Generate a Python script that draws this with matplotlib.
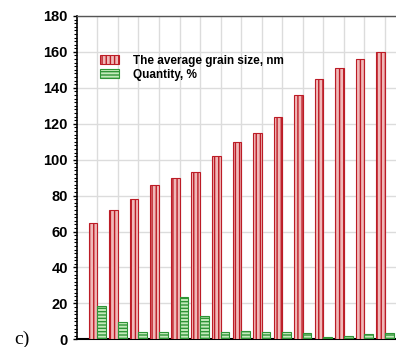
import numpy as np
import matplotlib.pyplot as plt
from matplotlib.ticker import MultipleLocator

# Grain size and share of grains per size class
grain_size = [65, 72, 78, 86, 90, 93, 102, 110, 115, 124, 136, 145, 151, 156, 160]
quantity = [18.5, 9.5, 4, 4.3, 23.7, 13, 4, 4.6, 4.3, 4, 3.3, 1.3, 1.8, 2.9, 3.5]
y_ticks = [0, 20, 40, 60, 80, 100, 120, 140, 160, 180]

plt.rcParams['font.family'] = ['Liberation Sans', 'DejaVu Sans']
plt.rcParams['hatch.linewidth'] = 1.0

fig = plt.figure(figsize=(3.96, 3.47), dpi=100)
ax = fig.add_axes([0.194, 0.022, 0.83, 0.932])

x = np.arange(len(grain_size))
w = 0.42

ax.bar(x - w / 2, grain_size, w, facecolor='#f0b8b8', edgecolor='#bc1c26',
       hatch='||||', linewidth=0.8, label='The average grain size, nm', zorder=3)
ax.bar(x + w / 2, quantity, w, facecolor='#c4eabb', edgecolor='#2e9436',
       hatch='-----', linewidth=0.8, label='Quantity, %', zorder=3)

ax.set_xlim(-1, 15)
ax.set_ylim(0, 180)
ax.set_xticks(x)
ax.set_xticklabels([])
ax.set_yticks(y_ticks)
ax.yaxis.set_minor_locator(MultipleLocator(2))
ax.tick_params(axis='x', length=0)
ax.tick_params(axis='y', which='major', direction='out', length=3, width=1)
ax.tick_params(axis='y', which='minor', direction='out', length=2, width=0.8)
for lab in ax.get_yticklabels():
    lab.set_fontweight('bold')
    lab.set_fontsize(10.5)

ax.grid(True, color='#dcdcdc', linewidth=1.0, zorder=0)
ax.set_axisbelow(True)
ax.spines['right'].set_visible(False)
ax.spines['top'].set_color('#555555')
ax.spines['top'].set_linewidth(1.0)
ax.spines['left'].set_linewidth(1.2)
ax.spines['bottom'].set_linewidth(1.5)

leg = ax.legend(loc='upper left', bbox_to_anchor=(0.055, 0.895), frameon=False,
                prop={'weight': 'bold', 'size': 8.5}, handlelength=1.6,
                handleheight=0.8, labelspacing=0.2, handletextpad=1.2,
                borderaxespad=0)

fig.text(0.035, 0.008, 'c)', family=['Liberation Serif', 'DejaVu Serif'],
         fontsize=14)

fig.savefig('out.png', dpi=100)
